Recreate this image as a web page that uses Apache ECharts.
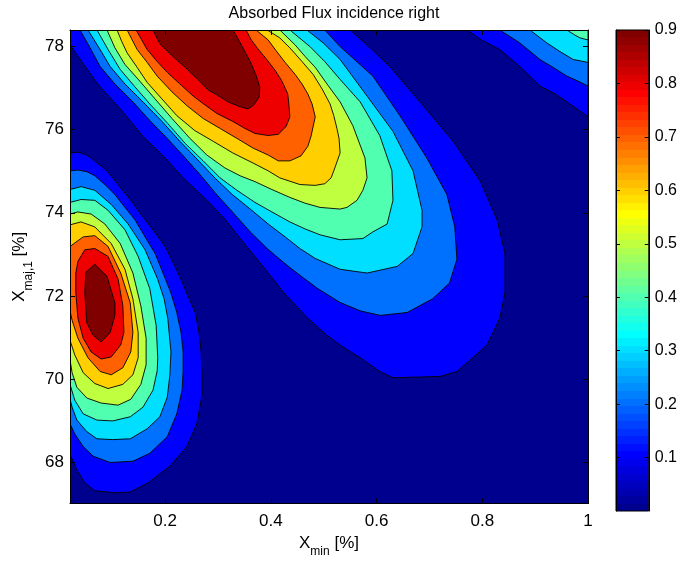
<!DOCTYPE html>
<html><head><meta charset="utf-8">
<script src="https://cdn.jsdelivr.net/npm/echarts@6/dist/echarts.min.js"></script>
<style>html,body{margin:0;padding:0;background:#fff}#c{width:680px;height:563px}</style>
</head><body><div id="c"></div>
<script>
// ---------------- data ----------------
const xTicks = [0.2, 0.4, 0.6, 0.8, 1];
const yTicks = [68, 70, 72, 74, 76, 78];
const colorbarTicks = [0.1, 0.2, 0.3, 0.4, 0.5, 0.6, 0.7, 0.8, 0.9];
const colorbarRange = [0, 0.9];
const xRange = [0.02, 1];
const yRange = [67, 78.4];
const contourLevels = [0.1, 0.2, 0.3, 0.4, 0.5, 0.6, 0.7, 0.8, 0.9];

// region above each level for the diagonal ridge (top edge)
const ridgeContours = [
  [[0.020,78.40],[0.020,78.04],[0.071,77.12],[0.115,76.50],[0.158,75.84],[0.200,75.32],[0.234,74.84],[0.279,74.30],[0.313,73.85],[0.342,73.38],[0.385,72.71],[0.423,72.10],[0.468,71.48],[0.506,71.05],[0.536,70.77],[0.569,70.51],[0.606,70.18],[0.631,70.03],[0.720,70.06],[0.752,70.18],[0.782,70.51],[0.809,70.82],[0.833,71.46],[0.843,72.07],[0.843,73.02],[0.828,73.83],[0.796,74.77],[0.745,75.72],[0.688,76.58],[0.625,77.52],[0.588,77.97],[0.550,78.40]],
  [[0.039,78.40],[0.058,77.97],[0.077,77.52],[0.105,77.10],[0.139,76.67],[0.171,76.22],[0.204,75.79],[0.238,75.32],[0.266,74.92],[0.294,74.49],[0.328,74.01],[0.361,73.54],[0.393,73.14],[0.417,72.88],[0.442,72.62],[0.487,72.19],[0.531,71.84],[0.569,71.64],[0.607,71.53],[0.658,71.60],[0.706,71.93],[0.738,72.31],[0.752,72.88],[0.748,73.66],[0.733,74.44],[0.695,75.32],[0.644,76.34],[0.593,77.29],[0.531,78.00],[0.502,78.40]],
  [[0.054,78.40],[0.075,77.97],[0.096,77.52],[0.124,77.10],[0.158,76.67],[0.194,76.20],[0.228,75.72],[0.262,75.27],[0.294,74.84],[0.327,74.44],[0.361,74.09],[0.395,73.73],[0.427,73.42],[0.455,73.14],[0.484,72.90],[0.531,72.64],[0.582,72.55],[0.639,72.71],[0.669,73.02],[0.686,73.66],[0.686,74.06],[0.669,75.01],[0.631,75.96],[0.582,76.81],[0.531,77.69],[0.499,78.09],[0.468,78.40]],
  [[0.071,78.40],[0.092,77.93],[0.115,77.45],[0.143,77.03],[0.171,76.62],[0.205,76.15],[0.238,75.67],[0.272,75.25],[0.304,74.84],[0.336,74.54],[0.370,74.25],[0.402,74.02],[0.436,73.78],[0.465,73.61],[0.493,73.47],[0.531,73.35],[0.574,73.38],[0.593,73.54],[0.620,73.73],[0.631,74.30],[0.629,75.01],[0.606,75.86],[0.569,76.67],[0.531,77.21],[0.502,77.64],[0.474,78.00],[0.436,78.40]],
  [[0.090,78.40],[0.105,77.97],[0.124,77.57],[0.152,77.17],[0.181,76.74],[0.213,76.27],[0.247,75.79],[0.279,75.39],[0.313,75.08],[0.342,74.89],[0.370,74.75],[0.402,74.56],[0.436,74.37],[0.465,74.23],[0.493,74.13],[0.531,74.09],[0.544,74.13],[0.563,74.30],[0.574,74.54],[0.582,74.84],[0.578,75.32],[0.555,76.10],[0.531,76.67],[0.508,77.07],[0.484,77.50],[0.465,77.76],[0.446,78.04],[0.417,78.40]],
  [[0.109,78.40],[0.118,78.12],[0.128,77.85],[0.147,77.50],[0.166,77.14],[0.194,76.74],[0.222,76.34],[0.256,75.98],[0.291,75.72],[0.328,75.44],[0.366,75.20],[0.395,75.01],[0.417,74.84],[0.455,74.68],[0.484,74.66],[0.502,74.70],[0.514,74.84],[0.521,75.08],[0.531,75.44],[0.529,75.79],[0.525,76.03],[0.519,76.34],[0.512,76.62],[0.497,76.98],[0.480,77.33],[0.459,77.64],[0.436,77.97],[0.417,78.21],[0.393,78.40]],
  [[0.128,78.40],[0.147,77.93],[0.166,77.62],[0.185,77.29],[0.213,76.91],[0.241,76.58],[0.272,76.27],[0.304,76.03],[0.336,75.79],[0.366,75.56],[0.395,75.39],[0.414,75.25],[0.436,75.25],[0.457,75.37],[0.470,75.60],[0.476,75.84],[0.484,76.31],[0.478,76.62],[0.470,76.86],[0.459,77.10],[0.446,77.33],[0.427,77.62],[0.410,77.90],[0.395,78.16],[0.372,78.40]],
  [[0.145,78.40],[0.166,77.93],[0.185,77.64],[0.204,77.38],[0.228,77.10],[0.253,76.81],[0.275,76.60],[0.298,76.39],[0.328,76.20],[0.351,76.03],[0.370,75.91],[0.395,75.86],[0.414,75.89],[0.429,76.08],[0.436,76.31],[0.434,76.62],[0.432,76.86],[0.421,77.17],[0.408,77.43],[0.391,77.71],[0.374,77.97],[0.363,78.16],[0.353,78.40]],
  [[0.177,78.40],[0.190,78.07],[0.209,77.83],[0.238,77.50],[0.262,77.21],[0.281,76.96],[0.304,76.79],[0.319,76.67],[0.342,76.55],[0.357,76.50],[0.368,76.60],[0.378,76.79],[0.379,77.03],[0.372,77.31],[0.361,77.64],[0.345,78.02],[0.334,78.28],[0.328,78.40]]
];

// region above each level for the peak on the left edge
const leftPeakContours = [
  [[0.020,75.44],[0.035,75.46],[0.052,75.39],[0.067,75.25],[0.090,75.01],[0.111,74.68],[0.134,74.32],[0.154,73.97],[0.177,73.59],[0.200,73.19],[0.215,72.81],[0.230,72.40],[0.243,72.00],[0.257,71.60],[0.264,71.12],[0.268,70.65],[0.270,70.03],[0.270,69.63],[0.260,68.92],[0.241,68.37],[0.209,67.90],[0.168,67.50],[0.134,67.28],[0.105,67.26],[0.067,67.31],[0.048,67.50],[0.033,67.81],[0.024,68.07],[0.020,68.16]],
  [[0.020,75.01],[0.035,75.03],[0.052,74.99],[0.067,74.89],[0.086,74.68],[0.105,74.44],[0.124,74.13],[0.143,73.83],[0.162,73.42],[0.181,73.02],[0.196,72.55],[0.211,72.07],[0.222,71.60],[0.230,71.12],[0.234,70.65],[0.234,70.18],[0.232,69.73],[0.222,69.16],[0.204,68.61],[0.171,68.21],[0.139,68.02],[0.096,67.99],[0.064,68.14],[0.045,68.37],[0.029,68.68],[0.020,68.92]],
  [[0.020,74.56],[0.041,74.63],[0.067,74.54],[0.098,74.20],[0.130,73.73],[0.162,73.11],[0.186,72.40],[0.198,71.93],[0.205,71.46],[0.211,70.65],[0.209,70.10],[0.204,69.56],[0.190,69.09],[0.166,68.80],[0.134,68.56],[0.101,68.54],[0.071,68.56],[0.052,68.73],[0.033,69.01],[0.024,69.32],[0.020,69.51]],
  [[0.020,74.25],[0.041,74.32],[0.067,74.30],[0.092,74.06],[0.124,73.59],[0.149,72.95],[0.171,72.17],[0.183,71.29],[0.186,70.51],[0.185,70.20],[0.177,69.73],[0.158,69.32],[0.134,69.09],[0.101,68.99],[0.071,69.01],[0.045,69.16],[0.029,69.49],[0.020,69.87]],
  [[0.020,73.97],[0.035,74.02],[0.060,73.97],[0.086,73.73],[0.115,73.26],[0.139,72.55],[0.154,71.76],[0.164,70.98],[0.164,70.34],[0.154,69.87],[0.135,69.51],[0.111,69.37],[0.079,69.42],[0.052,69.54],[0.033,69.80],[0.024,70.15],[0.020,70.46]],
  [[0.020,73.71],[0.041,73.78],[0.067,73.66],[0.098,73.26],[0.124,72.64],[0.139,71.93],[0.149,71.12],[0.149,70.51],[0.139,70.10],[0.120,69.87],[0.092,69.77],[0.067,69.89],[0.045,70.15],[0.029,70.58],[0.020,70.93]],
  [[0.020,73.19],[0.045,73.42],[0.067,73.45],[0.092,73.19],[0.116,72.55],[0.134,71.83],[0.139,71.12],[0.135,70.65],[0.120,70.27],[0.098,70.10],[0.077,70.18],[0.054,70.51],[0.035,70.98],[0.024,71.41],[0.020,71.64]],
  [[0.031,72.55],[0.035,72.83],[0.048,73.11],[0.067,73.14],[0.092,72.95],[0.111,72.40],[0.120,71.76],[0.122,71.12],[0.116,70.82],[0.098,70.53],[0.079,70.48],[0.060,70.65],[0.045,70.98],[0.035,71.46],[0.031,72.07]],
  [[0.050,72.57],[0.067,72.76],[0.090,72.47],[0.105,71.83],[0.105,71.53],[0.096,71.12],[0.079,70.89],[0.064,71.05],[0.052,71.34],[0.048,72.07]]
];

// region above each level in the top-right corner
const cornerContours = [
  [[0.771,78.40],[0.798,78.16],[0.833,77.93],[0.871,77.52],[0.909,77.05],[0.938,76.86],[0.960,76.67],[0.981,76.48],[1.000,76.31],[1.000,78.40]],
  [[0.833,78.40],[0.871,78.09],[0.909,77.69],[0.934,77.50],[0.960,77.29],[0.981,77.17],[1.000,77.05],[1.000,78.40]],
  [[0.890,78.40],[0.922,78.09],[0.947,77.88],[0.972,77.69],[1.000,77.62],[1.000,78.40]],
  [[0.960,78.40],[0.975,78.28],[0.985,78.21],[1.000,78.16],[1.000,78.40]]
];

// ---------------- colormap (MATLAB jet, 64 entries) ----------------
function jet64() {
  const n = 64, m = 16, u = [];
  for (let i = 1; i <= 16; i++) u.push(i / 16);
  for (let i = 0; i < 15; i++) u.push(1);
  for (let i = 16; i >= 1; i--) u.push(i / 16);
  const J = Array.from({length: n}, () => [0, 0, 0]);
  for (let j = 0; j < u.length; j++) {
    const g = 8 + j + 1, r = g + m, b = g - m;
    if (r <= n) J[r - 1][0] = u[j];
    if (g <= n) J[g - 1][1] = u[j];
    if (b >= 1) J[b - 1][2] = u[j];
  }
  return J.map(c => 'rgb(' + c.map(v => Math.round(v * 255)).join(',') + ')');
}
const JET = jet64();
function levelColor(v) {
  const t = (v - colorbarRange[0]) / (colorbarRange[1] - colorbarRange[0]);
  return JET[Math.max(0, Math.min(63, Math.floor(64 * t)))];
}

// ---------------- build contour items ----------------
const items = [];
contourLevels.forEach((lv, i) => {
  [ridgeContours, leftPeakContours, cornerContours].forEach(f => {
    if (f[i]) items.push({level: lv, path: f[i]});
  });
});

const FONT = '"Liberation Sans", Arial, Helvetica, sans-serif';
const chart = echarts.init(document.getElementById('c'), null, {renderer: 'canvas'});

const stops = [];
JET.forEach((c, i) => {
  stops.push({offset: i / 64, color: c});
  stops.push({offset: Math.min(1, (i + 1) / 64 - 1e-6), color: c});
});

const tickStyle = {lineStyle: {color: '#000', width: 1}};
const nameRich = {
  m: {fontSize: 17, fontFamily: FONT, color: '#000', lineHeight: 30},
  s: {fontSize: 12, fontFamily: FONT, color: '#000', lineHeight: 12, verticalAlign: 'bottom'}
};

chart.setOption({
  animation: false,
  backgroundColor: '#fff',
  textStyle: {fontFamily: FONT},
  title: {
    text: 'Absorbed Flux incidence right',
    left: 329, top: 1, textAlign: 'center',
    textStyle: {fontSize: 16, fontWeight: 'normal', color: '#000', fontFamily: FONT}
  },
  grid: [
    {left: 70, top: 30, width: 518, height: 481, show: true, backgroundColor: levelColor(0), borderWidth: 0},
    {left: 616, top: 30, width: 35, height: 481, show: false}
  ],
  xAxis: [
    {gridIndex: 0, type: 'value', min: xRange[0], max: xRange[1], position: 'bottom', z: 10,
     axisLine: {show: true, onZero: false, lineStyle: {color: '#000', width: 1}},
     axisTick: {show: true, inside: true, length: 5, customValues: xTicks, ...tickStyle},
     axisLabel: {show: true, customValues: xTicks, fontSize: 17, color: '#000', margin: 9, fontFamily: FONT},
     splitLine: {show: false},
     name: '{m|X}{s|min}{m| [%]}', nameLocation: 'middle', nameGap: 18,
     nameTextStyle: {rich: nameRich}},
    {gridIndex: 0, type: 'value', min: xRange[0], max: xRange[1], position: 'top', z: 10,
     axisLine: {show: true, onZero: false, lineStyle: {color: '#000', width: 1}},
     axisTick: {show: true, inside: true, length: 5, customValues: xTicks, ...tickStyle},
     axisLabel: {show: false}, splitLine: {show: false}},
    {gridIndex: 1, type: 'value', min: 0, max: 1, show: false}
  ],
  yAxis: [
    {gridIndex: 0, type: 'value', min: yRange[0], max: yRange[1], position: 'left', z: 10,
     axisLine: {show: true, onZero: false, lineStyle: {color: '#000', width: 1}},
     axisTick: {show: true, inside: true, length: 5, customValues: yTicks, ...tickStyle},
     axisLabel: {show: true, customValues: yTicks, fontSize: 17, color: '#000', margin: 6, fontFamily: FONT},
     splitLine: {show: false},
     name: '{m|X}{s|maj,1}{m| [%]}', nameLocation: 'middle', nameGap: 35,
     nameTextStyle: {rich: nameRich}},
    {gridIndex: 0, type: 'value', min: yRange[0], max: yRange[1], position: 'right', z: 10,
     axisLine: {show: true, onZero: false, lineStyle: {color: '#000', width: 1}},
     axisTick: {show: true, inside: true, length: 5, customValues: yTicks, ...tickStyle},
     axisLabel: {show: false}, splitLine: {show: false}},
    {gridIndex: 1, type: 'value', min: colorbarRange[0], max: colorbarRange[1], position: 'right', z: 10,
     axisLine: {show: true, onZero: false, lineStyle: {color: '#000', width: 1}},
     axisTick: {show: true, inside: true, length: 4, customValues: colorbarTicks, ...tickStyle},
     axisLabel: {show: true, customValues: colorbarTicks, fontSize: 16, color: '#000', margin: 6, fontFamily: FONT,
                 formatter: v => v.toFixed(1)},
     splitLine: {show: false}},
    {gridIndex: 1, type: 'value', min: colorbarRange[0], max: colorbarRange[1], position: 'left', z: 10,
     axisLine: {show: true, onZero: false, lineStyle: {color: '#000', width: 1}},
     axisTick: {show: true, inside: true, length: 4, customValues: colorbarTicks, ...tickStyle},
     axisLabel: {show: false}, splitLine: {show: false}}
  ],
  series: [
    {
      type: 'custom', xAxisIndex: 0, yAxisIndex: 0, clip: true,
      data: items.map(it => [it.level]),
      renderItem: function (params, api) {
        const it = items[params.dataIndex];
        const pts = it.path.map(p => api.coord(p));
        return {
          type: 'polygon',
          shape: {points: pts},
          style: {fill: levelColor(api.value(0)), stroke: '#000', lineWidth: 0.9}
        };
      }
    },
    {
      type: 'custom', xAxisIndex: 2, yAxisIndex: 2, clip: false,
      data: [colorbarRange],
      renderItem: function (params, api) {
        const p0 = api.coord([0, api.value(0)]);
        const p1 = api.coord([1, api.value(1)]);
        return {
          type: 'rect',
          shape: {x: p0[0], y: p1[1], width: p1[0] - p0[0], height: p0[1] - p1[1]},
          style: {fill: new echarts.graphic.LinearGradient(0, 1, 0, 0, stops), stroke: '#000', lineWidth: 1}
        };
      }
    }
  ]
});
</script>
</body></html>
